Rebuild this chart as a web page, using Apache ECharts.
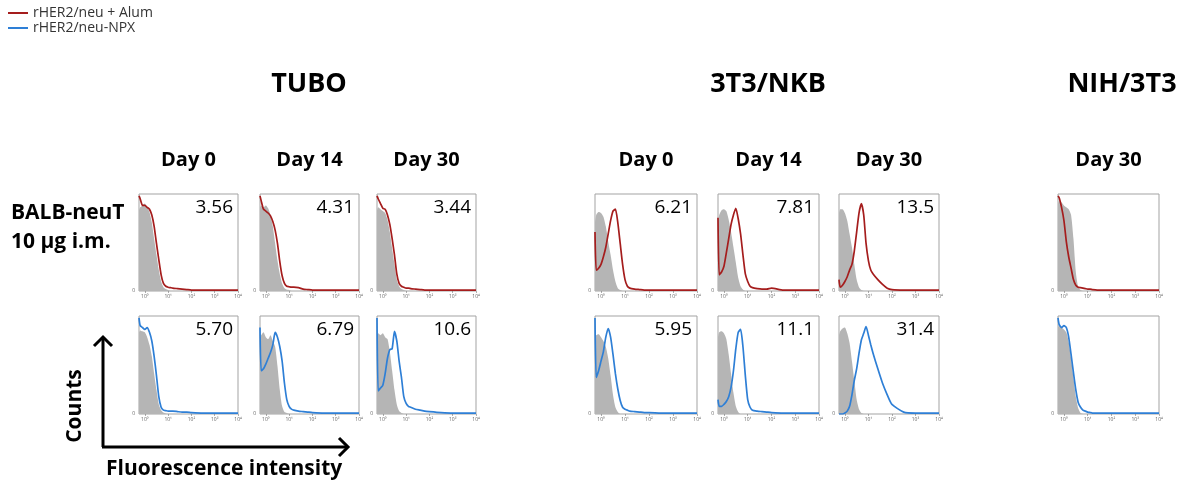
<!DOCTYPE html>
<html>
<head>
<meta charset="utf-8">
<title>Anti-rHER2/neu serum binding</title>
<script src="https://cdn.jsdelivr.net/npm/echarts@6.0.0/dist/echarts.min.js"></script>
<style>
  html, body { margin: 0; padding: 0; background: #ffffff; }
  #chart { width: 1179px; height: 480px; }
</style>
</head>
<body>
<div id="chart"></div>
<script>
// histogram bins on a log10 fluorescence scale (10^-0.25 .. 10^4)
const logX = [-0.25, -0.2, -0.1, 0, 0.1, 0.2, 0.3, 0.4, 0.5, 0.6, 0.7, 0.8, 0.9, 1.0, 1.1, 1.2, 1.4, 1.6, 1.8, 2.0, 2.5, 3.0, 3.5, 4.0]
const tickLabels = ['10⁰', '10¹', '10²', '10³', '10⁴']

// TUBO, rHER2/neu + Alum
const tuboD0Gray = [0.85, 0.88, 0.9, 0.92, 0.88, 0.83, 0.72, 0.55, 0.38, 0.22, 0.1, 0.04, 0.02, 0.01, 0, 0, 0, 0, 0, 0, 0, 0, 0, 0]
const tuboD0Alum = [1.0, 0.97, 0.9, 0.9, 0.88, 0.86, 0.8, 0.68, 0.5, 0.33, 0.17, 0.08, 0.05, 0.04, 0.035, 0.03, 0.025, 0.02, 0.015, 0.01, 0.01, 0.01, 0.01, 0.01]
const tuboD14Gray = [0.88, 0.9, 0.88, 0.9, 0.87, 0.8, 0.68, 0.5, 0.32, 0.18, 0.08, 0.03, 0.015, 0.01, 0, 0, 0, 0, 0, 0, 0, 0, 0, 0]
const tuboD14Alum = [1.0, 0.95, 0.86, 0.84, 0.82, 0.79, 0.73, 0.64, 0.5, 0.31, 0.16, 0.08, 0.05, 0.045, 0.04, 0.04, 0.035, 0.02, 0.015, 0.01, 0.01, 0.01, 0.01, 0.01]
const tuboD30Gray = [0.85, 0.88, 0.86, 0.84, 0.82, 0.75, 0.62, 0.45, 0.28, 0.12, 0.05, 0.02, 0.01, 0, 0, 0, 0, 0, 0, 0, 0, 0, 0, 0]
const tuboD30Alum = [1.0, 0.97, 0.92, 0.87, 0.86, 0.8, 0.7, 0.55, 0.38, 0.18, 0.08, 0.05, 0.04, 0.03, 0.03, 0.025, 0.02, 0.015, 0.01, 0.01, 0.01, 0.01, 0.01, 0.01]

// TUBO, rHER2/neu-NPX
const tuboD0NpxGray = [0.85, 0.87, 0.86, 0.85, 0.8, 0.72, 0.6, 0.42, 0.25, 0.1, 0.04, 0.015, 0.005, 0, 0, 0, 0, 0, 0, 0, 0, 0, 0, 0]
const tuboD0Npx = [1.0, 0.92, 0.9, 0.88, 0.9, 0.85, 0.76, 0.6, 0.4, 0.18, 0.07, 0.04, 0.035, 0.03, 0.03, 0.03, 0.025, 0.02, 0.02, 0.015, 0.01, 0.01, 0.01, 0.01]
const tuboD14NpxGray = [0.8, 0.82, 0.85, 0.8, 0.78, 0.82, 0.76, 0.7, 0.5, 0.25, 0.08, 0.02, 0.01, 0, 0, 0, 0, 0, 0, 0, 0, 0, 0, 0]
const tuboD14Npx = [0.9, 0.45, 0.47, 0.52, 0.58, 0.64, 0.72, 0.85, 0.8, 0.7, 0.55, 0.32, 0.15, 0.08, 0.05, 0.04, 0.03, 0.025, 0.02, 0.015, 0.01, 0.01, 0.01, 0.01]
const tuboD30NpxGray = [0.8, 0.84, 0.82, 0.84, 0.8, 0.78, 0.65, 0.45, 0.25, 0.1, 0.03, 0.01, 0, 0, 0, 0, 0, 0, 0, 0, 0, 0, 0, 0]
const tuboD30Npx = [1.0, 0.24, 0.27, 0.3, 0.42, 0.58, 0.67, 0.68, 0.86, 0.76, 0.55, 0.38, 0.18, 0.11, 0.08, 0.07, 0.05, 0.04, 0.03, 0.025, 0.015, 0.01, 0.01, 0.01]

// 3T3/NKB, rHER2/neu + Alum
const nkbD0Gray = [0.72, 0.8, 0.83, 0.82, 0.78, 0.68, 0.52, 0.38, 0.22, 0.1, 0.03, 0.01, 0, 0, 0, 0, 0, 0, 0, 0, 0, 0, 0, 0]
const nkbD0Alum = [0.62, 0.22, 0.24, 0.28, 0.36, 0.46, 0.6, 0.74, 0.84, 0.86, 0.72, 0.5, 0.28, 0.12, 0.05, 0.03, 0.02, 0.015, 0.01, 0.01, 0.01, 0.01, 0.01, 0.01]
const nkbD14Gray = [0.72, 0.8, 0.85, 0.86, 0.84, 0.75, 0.62, 0.46, 0.3, 0.14, 0.05, 0.015, 0, 0, 0, 0, 0, 0, 0, 0, 0, 0, 0, 0]
const nkbD14Alum = [0.77, 0.17, 0.2, 0.26, 0.4, 0.55, 0.7, 0.8, 0.87, 0.76, 0.6, 0.38, 0.18, 0.1, 0.05, 0.035, 0.025, 0.02, 0.02, 0.03, 0.01, 0.01, 0.01, 0.01]
const nkbD30Gray = [0.82, 0.86, 0.86, 0.82, 0.74, 0.6, 0.46, 0.28, 0.12, 0.04, 0.01, 0, 0, 0, 0, 0, 0, 0, 0, 0, 0, 0, 0, 0]
const nkbD30Alum = [0.12, 0.04, 0.06, 0.1, 0.15, 0.22, 0.28, 0.42, 0.62, 0.82, 0.92, 0.8, 0.5, 0.32, 0.22, 0.18, 0.12, 0.07, 0.03, 0.015, 0.01, 0.01, 0.01, 0.01]

// 3T3/NKB, rHER2/neu-NPX
const nkbD0NpxGray = [0.78, 0.82, 0.83, 0.8, 0.76, 0.7, 0.58, 0.4, 0.2, 0.07, 0.02, 0, 0, 0, 0, 0, 0, 0, 0, 0, 0, 0, 0, 0]
const nkbD0Npx = [1.0, 0.38, 0.45, 0.55, 0.65, 0.8, 0.89, 0.8, 0.62, 0.42, 0.26, 0.14, 0.07, 0.05, 0.04, 0.03, 0.025, 0.02, 0.015, 0.015, 0.01, 0.01, 0.01, 0.01]
const nkbD14NpxGray = [0.8, 0.85, 0.86, 0.84, 0.78, 0.62, 0.42, 0.22, 0.08, 0.02, 0, 0, 0, 0, 0, 0, 0, 0, 0, 0, 0, 0, 0, 0]
const nkbD14Npx = [0.15, 0.08, 0.08, 0.1, 0.13, 0.18, 0.28, 0.45, 0.68, 0.85, 0.88, 0.7, 0.4, 0.15, 0.07, 0.04, 0.03, 0.025, 0.02, 0.015, 0.01, 0.01, 0.01, 0.01]
const nkbD30NpxGray = [0.82, 0.86, 0.89, 0.9, 0.84, 0.74, 0.55, 0.35, 0.15, 0.05, 0.01, 0, 0, 0, 0, 0, 0, 0, 0, 0, 0, 0, 0, 0]
const nkbD30Npx = [0, 0, 0, 0.01, 0.03, 0.08, 0.2, 0.35, 0.47, 0.63, 0.77, 0.84, 0.91, 0.82, 0.72, 0.63, 0.47, 0.32, 0.2, 0.1, 0.02, 0.01, 0.01, 0.01]

// NIH/3T3, day 30
const nihD30Gray = [0.92, 0.95, 0.93, 0.9, 0.88, 0.86, 0.8, 0.55, 0.2, 0.04, 0.01, 0, 0, 0, 0, 0, 0, 0, 0, 0, 0, 0, 0, 0]
const nihD30Alum = [1.0, 0.98, 0.88, 0.74, 0.52, 0.36, 0.24, 0.12, 0.06, 0.04, 0.035, 0.03, 0.025, 0.02, 0.02, 0.015, 0.01, 0.01, 0.01, 0.01, 0.01, 0.01, 0.01, 0.01]
const nihD30NpxGray = [0.9, 0.92, 0.9, 0.88, 0.85, 0.75, 0.58, 0.38, 0.18, 0.06, 0.01, 0, 0, 0, 0, 0, 0, 0, 0, 0, 0, 0, 0, 0]
const nihD30Npx = [1.0, 0.93, 0.9, 0.92, 0.9, 0.8, 0.62, 0.43, 0.25, 0.12, 0.07, 0.04, 0.03, 0.02, 0.015, 0.01, 0.01, 0.01, 0.01, 0.01, 0.01, 0.01, 0.01, 0.01]

// percentages printed in the panels (NIH/3T3 has none)
const pctAlum = ['3.56', '4.31', '3.44', '6.21', '7.81', '13.5', '']
const pctNpx = ['5.70', '6.79', '10.6', '5.95', '11.1', '31.4', '']

const dayLabels = ['Day 0', 'Day 14', 'Day 30', 'Day 0', 'Day 14', 'Day 30', 'Day 30']
const alumName = 'rHER2/neu + Alum'
const npxName = 'rHER2/neu-NPX'

const alumGray = [tuboD0Gray, tuboD14Gray, tuboD30Gray, nkbD0Gray, nkbD14Gray, nkbD30Gray, nihD30Gray]
const alumLine = [tuboD0Alum, tuboD14Alum, tuboD30Alum, nkbD0Alum, nkbD14Alum, nkbD30Alum, nihD30Alum]
const npxGray = [tuboD0NpxGray, tuboD14NpxGray, tuboD30NpxGray, nkbD0NpxGray, nkbD14NpxGray, nkbD30NpxGray, nihD30NpxGray]
const npxLine = [tuboD0Npx, tuboD14Npx, tuboD30Npx, nkbD0Npx, nkbD14Npx, nkbD30Npx, nihD30Npx]

// layout
const FONT = 'Open Sans'
const RED = '#a51d1d'
const BLUE = '#2e7fd6'
const GRAY = '#b5b5b5'
const cols = [
  { left: 139, width: 99 },
  { left: 260, width: 99 },
  { left: 377, width: 99 },
  { left: 595, width: 102 },
  { left: 718, width: 101 },
  { left: 839, width: 100 },
  { left: 1058, width: 101 }
]
const rows = [
  { top: 194, height: 97 },
  { top: 316, height: 98 }
]

const toPoints = arr => logX.map((x, i) => [x, arr[i]])

const grids = []
const xAxes = []
const yAxes = []
const series = []
const graphics = []

rows.forEach((row, r) => {
  cols.forEach((col, c) => {
    const idx = grids.length
    grids.push({
      left: col.left,
      top: row.top,
      width: col.width,
      height: row.height,
      show: true,
      borderColor: '#a3a3a3',
      borderWidth: 1,
      backgroundColor: '#ffffff'
    })
    xAxes.push({
      gridIndex: idx,
      type: 'value',
      min: -0.25,
      max: 4,
      splitLine: { show: false },
      axisLine: { show: false },
      axisTick: { show: true, customValues: [0, 1, 2, 3, 4], length: 2, lineStyle: { color: '#777', width: 0.6 } },
      axisLabel: {
        customValues: [0, 1, 2, 3, 4],
        formatter: v => tickLabels[Math.round(v)],
        fontSize: 5,
        color: '#666',
        margin: 3,
        fontFamily: FONT
      }
    })
    yAxes.push({
      gridIndex: idx,
      type: 'value',
      min: 0,
      max: 1.02,
      splitLine: { show: false },
      axisLine: { show: false },
      axisTick: { show: false },
      axisLabel: {
        customValues: [0],
        formatter: () => '0',
        fontSize: 5,
        color: '#666',
        margin: 4,
        fontFamily: FONT
      }
    })
    const grayArr = r === 0 ? alumGray[c] : npxGray[c]
    const lineArr = r === 0 ? alumLine[c] : npxLine[c]
    series.push({
      name: 'control',
      type: 'line',
      xAxisIndex: idx,
      yAxisIndex: idx,
      data: toPoints(grayArr),
      showSymbol: false,
      smooth: 0.2,
      lineStyle: { width: 0 },
      itemStyle: { color: GRAY },
      areaStyle: { color: GRAY, opacity: 1 },
      z: 1,
      silent: true
    })
    series.push({
      name: r === 0 ? alumName : npxName,
      type: 'line',
      xAxisIndex: idx,
      yAxisIndex: idx,
      data: toPoints(lineArr),
      showSymbol: false,
      smooth: 0.2,
      lineStyle: { width: 1.7, color: r === 0 ? RED : BLUE },
      itemStyle: { color: r === 0 ? RED : BLUE },
      z: 2
    })
    const pct = r === 0 ? pctAlum[c] : pctNpx[c]
    if (pct) {
      graphics.push({
        type: 'text',
        x: col.left + col.width - 5,
        y: row.top + 14,
        z: 100,
        style: {
          text: pct,
          fill: '#000',
          font: '19px "' + FONT + '"',
          textAlign: 'right',
          textVerticalAlign: 'middle'
        }
      })
    }
  })
})

// column headers
cols.forEach((col, c) => {
  graphics.push({
    type: 'text',
    x: col.left + col.width / 2,
    y: 160,
    style: {
      text: dayLabels[c],
      fill: '#000',
      font: 'bold 20px "' + FONT + '"',
      textAlign: 'center',
      textVerticalAlign: 'middle'
    }
  })
})

const titles = [
  { text: 'TUBO', x: 309 },
  { text: '3T3/NKB', x: 768 },
  { text: 'NIH/3T3', x: 1122 }
]
titles.forEach(t => {
  graphics.push({
    type: 'text',
    x: t.x,
    y: 84,
    style: {
      text: t.text,
      fill: '#000',
      font: 'bold 27px "' + FONT + '"',
      textAlign: 'center',
      textVerticalAlign: 'middle'
    }
  })
})

// row label
graphics.push(
  { type: 'text', x: 11, y: 213, style: { text: 'BALB-neuT', fill: '#000', font: 'bold 21px "' + FONT + '"', textAlign: 'left', textVerticalAlign: 'middle' } },
  { type: 'text', x: 11, y: 242, style: { text: '10 µg i.m.', fill: '#000', font: 'bold 21px "' + FONT + '"', textAlign: 'left', textVerticalAlign: 'middle' } }
)

// axis cartoon: Counts / Fluorescence intensity
graphics.push(
  { type: 'line', shape: { x1: 103, y1: 447, x2: 103, y2: 337 }, style: { stroke: '#000', lineWidth: 3 } },
  { type: 'polyline', shape: { points: [[94, 346], [103, 337], [112, 346]] }, style: { stroke: '#000', lineWidth: 3, fill: null } },
  { type: 'line', shape: { x1: 102, y1: 447, x2: 348, y2: 447 }, style: { stroke: '#000', lineWidth: 3 } },
  { type: 'polyline', shape: { points: [[339, 438], [348, 447], [339, 456]] }, style: { stroke: '#000', lineWidth: 3, fill: null } },
  { type: 'text', x: 75, y: 406, rotation: Math.PI / 2, style: { text: 'Counts', fill: '#000', font: 'bold 21px "' + FONT + '"', textAlign: 'center', textVerticalAlign: 'middle' } },
  { type: 'text', x: 106, y: 469, style: { text: 'Fluorescence intensity', fill: '#000', font: 'bold 21px "' + FONT + '"', textAlign: 'left', textVerticalAlign: 'middle' } }
)

const chart = echarts.init(document.getElementById('chart'), null, { renderer: 'canvas' })

chart.setOption({
  animation: false,
  backgroundColor: '#ffffff',
  legend: {
    orient: 'vertical',
    left: 3,
    top: 1,
    itemGap: 1,
    itemWidth: 20,
    itemHeight: 2,
    data: [
      { name: alumName, icon: 'rect' },
      { name: npxName, icon: 'rect' }
    ],
    textStyle: { fontSize: 14, color: '#333', fontFamily: FONT }
  },
  grid: grids,
  xAxis: xAxes,
  yAxis: yAxes,
  series: series,
  graphic: graphics
})

window.addEventListener('resize', () => chart.resize())
</script>
</body>
</html>
